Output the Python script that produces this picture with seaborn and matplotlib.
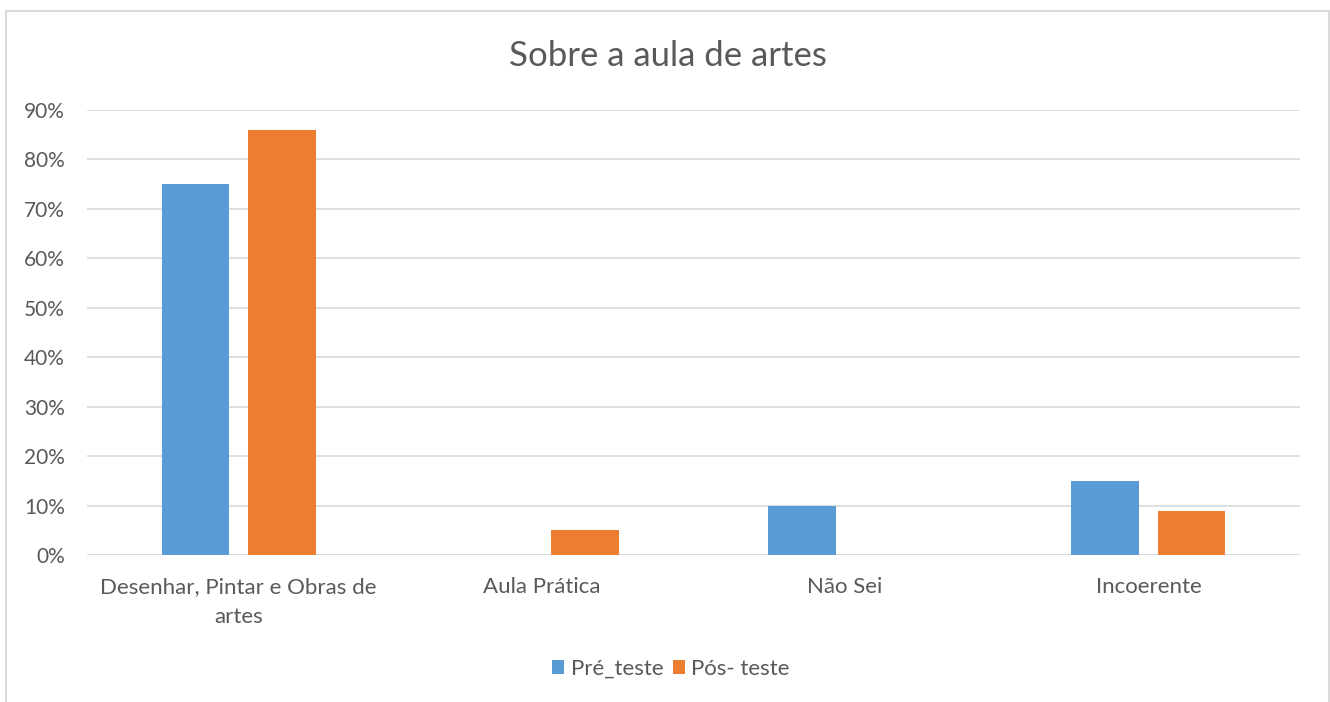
import matplotlib
matplotlib.use("Agg")
import matplotlib.pyplot as plt
import seaborn as sns
import pandas as pd
from matplotlib.patches import Rectangle
from matplotlib.ticker import PercentFormatter, MultipleLocator

categories = ["Desenhar, Pintar e Obras de\nartes", "Aula Prática", "Não Sei", "Incoerente"]
series_names = ["Pré_teste", "Pós- teste"]
pre_values = [0.75, 0.0, 0.10, 0.15]
pos_values = [0.86, 0.05, 0.0, 0.09]
colors = ["#5B9BD5", "#ED7D31"]

df = pd.DataFrame({
    "cat": categories * 2,
    "serie": [series_names[0]] * 4 + [series_names[1]] * 4,
    "val": pre_values + pos_values,
})

sns.set_theme(style="white")
plt.rcParams["font.family"] = ["Lato", "DejaVu Sans"]
txt = "#595959"

fig = plt.figure(figsize=(13.3, 7.02), dpi=100)
ax = fig.add_axes([87 / 1330, 1 - 555 / 702, 1213 / 1330, 445 / 702])

sns.barplot(data=df, x="cat", y="val", hue="serie", palette=colors, ax=ax,
            width=0.57, gap=0.22, order=categories, hue_order=series_names,
            saturation=1, linewidth=0)

ax.set_ylim(0, 0.9)
ax.set_xlim(-0.5, 3.5)
ax.yaxis.set_major_locator(MultipleLocator(0.1))
ax.yaxis.set_major_formatter(PercentFormatter(1.0, decimals=0))
ax.grid(axis="y", color="#D9D9D9", linewidth=1.2)
ax.set_axisbelow(True)
for s in ax.spines.values():
    s.set_visible(False)
ax.set_xlabel("")
ax.set_ylabel("")
ax.tick_params(axis="both", length=0, labelcolor=txt)
ax.tick_params(axis="x", pad=16, labelsize=16)
ax.tick_params(axis="y", pad=16, labelsize=15)
for lab in ax.get_xticklabels():
    lab.set_linespacing(1.6)
ax.axhline(0, color="#D9D9D9", linewidth=1.2, zorder=0.5)

leg = ax.legend(loc="center", bbox_to_anchor=((671 - 87) / 1213, (669 - 555) / -445), ncol=2,
                frameon=False, fontsize=16, handlelength=0.55, handleheight=0.55,
                handletextpad=0.3, columnspacing=0.4)
for t in leg.get_texts():
    t.set_color(txt)

fig.text(668 / 1330, 1 - 56 / 702, "Sobre a aula de artes", ha="center", va="center",
         fontsize=25, color=txt)

fig.patches.append(Rectangle((6 / 1330, -0.02), 1323 / 1330, 1 - 11 / 702 + 0.02,
                             transform=fig.transFigure, fill=False,
                             edgecolor="#D9D9D9", linewidth=1.5))

fig.savefig("out.png", dpi=100)
